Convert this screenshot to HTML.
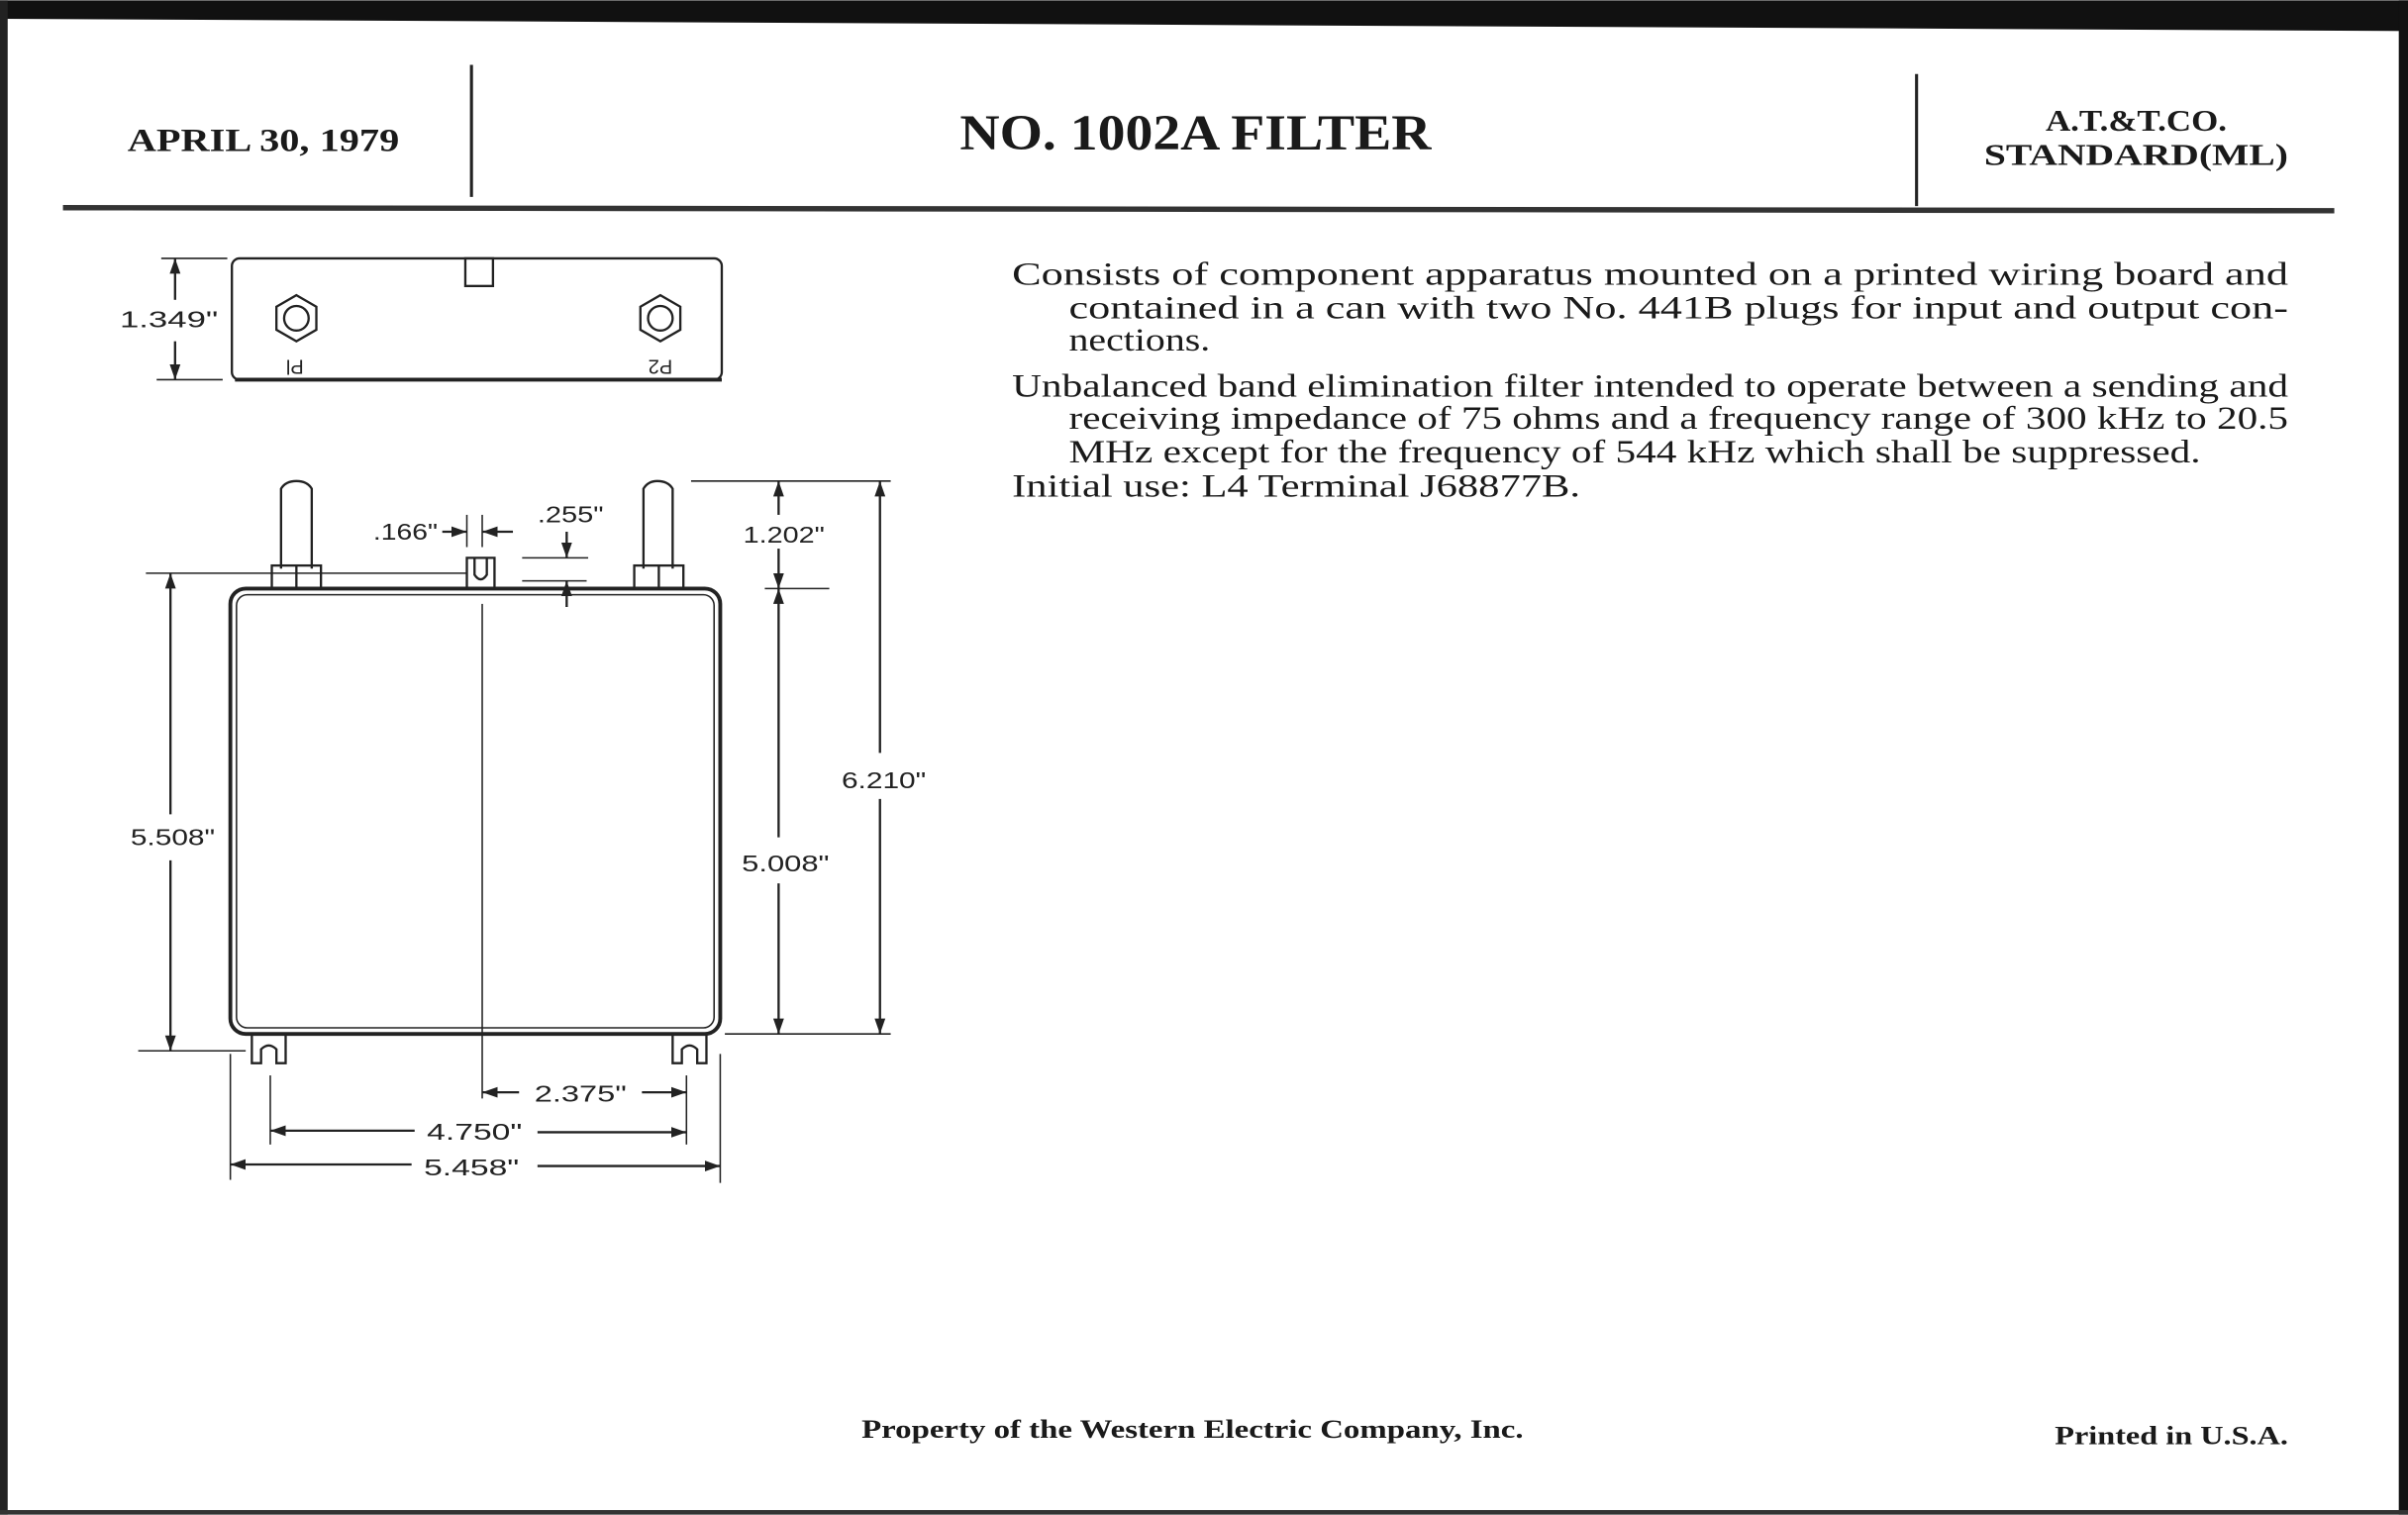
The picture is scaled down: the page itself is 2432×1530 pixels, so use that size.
<!DOCTYPE html>
<html><head><meta charset="utf-8"><style>
html,body{margin:0;padding:0;background:#fff;}
svg{display:block;}
.s{font-family:"Liberation Serif",serif;fill:#1a1a1a;}
.d{font-family:"Liberation Sans",sans-serif;fill:#222;font-size:15px;}
</style></head><body>
<svg width="2432" height="1530" viewBox="0 0 1568 986" xmlns="http://www.w3.org/2000/svg">
<defs>
<marker id="a" viewBox="0 0 10 10" refX="10" refY="5" markerWidth="10" markerHeight="10" markerUnits="userSpaceOnUse" orient="auto"><path d="M0,1.5 L10,5 L0,8.5z" fill="#222"/></marker>
</defs>
<rect width="1568" height="986" fill="#fff"/>
<polygon points="0,0 1568,0 1568,20 0,12" fill="#111"/>
<rect x="0" y="0" width="5" height="986" fill="#222"/>
<rect x="1562" y="0" width="6" height="986" fill="#111"/>
<rect x="0" y="983" width="1568" height="3" fill="#333"/>

<text class="s" x="83" y="98" font-size="21" font-weight="bold" textLength="177" lengthAdjust="spacingAndGlyphs">APRIL 30, 1979</text>
<line x1="307" y1="42" x2="307" y2="128" stroke="#222" stroke-width="2"/>
<text class="s" x="625" y="97" font-size="33" font-weight="bold" textLength="307" lengthAdjust="spacingAndGlyphs">NO. 1002A FILTER</text>
<line x1="1248" y1="48" x2="1248" y2="134" stroke="#222" stroke-width="2"/>
<text class="s" x="1332" y="85" font-size="20" font-weight="bold" textLength="118" lengthAdjust="spacingAndGlyphs">A.T.&amp;T.CO.</text>
<text class="s" x="1292" y="107" font-size="20" font-weight="bold" textLength="198" lengthAdjust="spacingAndGlyphs">STANDARD(ML)</text>
<line x1="41" y1="135" x2="1520" y2="137" stroke="#333" stroke-width="3.5"/>

<g class="s" font-size="21">
<text x="659" y="185" textLength="831" lengthAdjust="spacingAndGlyphs">Consists of component apparatus mounted on a printed wiring board and</text>
<text x="696" y="207" textLength="794" lengthAdjust="spacingAndGlyphs">contained in a can with two No. 441B plugs for input and output con-</text>
<text x="696" y="228" textLength="92" lengthAdjust="spacingAndGlyphs">nections.</text>
<text x="659" y="258" textLength="831" lengthAdjust="spacingAndGlyphs">Unbalanced band elimination filter intended to operate between a sending and</text>
<text x="696" y="279" textLength="794" lengthAdjust="spacingAndGlyphs">receiving impedance of 75 ohms and a frequency range of 300 kHz to 20.5</text>
<text x="696" y="301" textLength="737" lengthAdjust="spacingAndGlyphs">MHz except for the frequency of 544 kHz which shall be suppressed.</text>
<text x="659" y="323" textLength="370" lengthAdjust="spacingAndGlyphs">Initial use: L4 Terminal J68877B.</text>
</g>

<text class="s" x="561" y="936" font-size="17" font-weight="bold" textLength="431" lengthAdjust="spacingAndGlyphs">Property of the Western Electric Company, Inc.</text>
<text class="s" x="1338" y="940" font-size="17" font-weight="bold" textLength="152" lengthAdjust="spacingAndGlyphs">Printed in U.S.A.</text>

<g stroke="#222" fill="none" stroke-width="1.5">
<rect x="151" y="168" width="319" height="79" rx="5"/>
<line x1="153" y1="247" x2="470" y2="247" stroke-width="2.5"/>
<rect x="303" y="168" width="18" height="18"/>
<polygon points="193,192 206,199.5 206,214.5 193,222 180,214.5 180,199.5"/>
<circle cx="193" cy="207" r="8"/>
<polygon points="430,192 443,199.5 443,214.5 430,222 417,214.5 417,199.5"/>
<circle cx="430" cy="207" r="8"/>
<line x1="114" y1="195" x2="114" y2="168" marker-end="url(#a)"/>
<line x1="114" y1="222" x2="114" y2="247" marker-end="url(#a)"/>
<line x1="105" y1="168" x2="148" y2="168" stroke-width="1"/>
<line x1="102" y1="247" x2="145" y2="247" stroke-width="1"/>

<rect x="150" y="383" width="319" height="290" rx="10" stroke-width="2.5"/>
<rect x="154" y="387" width="311" height="282" rx="7" stroke-width="1"/>
<path d="M183,370 V318 Q186,313 193,313 Q200,313 203,318 V370"/>
<rect x="177" y="368" width="32" height="15"/>
<line x1="193" y1="368" x2="193" y2="383"/>
<path d="M419,370 V318 Q422,313 428,313 Q435,313 438,318 V370"/>
<rect x="413" y="368" width="32" height="15"/>
<line x1="429" y1="368" x2="429" y2="383"/>
<path d="M304,383 V363 H322 V383 Z"/>
<path d="M309,363 V374 Q313,380 317,374 V363"/>
<line x1="314" y1="393" x2="314" y2="715" stroke-width="1"/>
<path d="M164,673 V692 H170 V683 Q175,678 180,683 V692 H186 V673"/>
<path d="M438,673 V692 H444 V683 Q449,678 454,683 V692 H460 V673"/>

<line x1="95" y1="373" x2="304" y2="373" stroke-width="1"/>
<line x1="90" y1="684" x2="160" y2="684" stroke-width="1"/>
<line x1="111" y1="530" x2="111" y2="373" marker-end="url(#a)"/>
<line x1="111" y1="560" x2="111" y2="684" marker-end="url(#a)"/>
<line x1="450" y1="313" x2="580" y2="313" stroke-width="1"/>
<line x1="498" y1="383" x2="540" y2="383" stroke-width="1"/>
<line x1="472" y1="673" x2="580" y2="673" stroke-width="1"/>
<line x1="507" y1="335" x2="507" y2="313" marker-end="url(#a)"/>
<line x1="507" y1="357" x2="507" y2="383" marker-end="url(#a)"/>
<line x1="507" y1="545" x2="507" y2="383" marker-end="url(#a)"/>
<line x1="507" y1="575" x2="507" y2="673" marker-end="url(#a)"/>
<line x1="573" y1="490" x2="573" y2="313" marker-end="url(#a)"/>
<line x1="573" y1="520" x2="573" y2="673" marker-end="url(#a)"/>
<line x1="304" y1="335" x2="304" y2="356" stroke-width="1"/>
<line x1="314" y1="335" x2="314" y2="356" stroke-width="1"/>
<line x1="288" y1="346" x2="304" y2="346" marker-end="url(#a)"/>
<line x1="334" y1="346" x2="314" y2="346" marker-end="url(#a)"/>
<line x1="340" y1="363" x2="383" y2="363" stroke-width="1"/>
<line x1="340" y1="378" x2="382" y2="378" stroke-width="1"/>
<line x1="369" y1="346" x2="369" y2="363" marker-end="url(#a)"/>
<line x1="369" y1="395" x2="369" y2="378" marker-end="url(#a)"/>
<line x1="176" y1="700" x2="176" y2="745" stroke-width="1"/>
<line x1="447" y1="700" x2="447" y2="745" stroke-width="1"/>
<line x1="150" y1="686" x2="150" y2="768" stroke-width="1"/>
<line x1="469" y1="686" x2="469" y2="770" stroke-width="1"/>
<line x1="338" y1="711" x2="314" y2="711" marker-end="url(#a)"/>
<line x1="418" y1="711" x2="447" y2="711" marker-end="url(#a)"/>
<line x1="270" y1="736" x2="176" y2="736" marker-end="url(#a)"/>
<line x1="350" y1="737" x2="447" y2="737" marker-end="url(#a)"/>
<line x1="268" y1="758" x2="150" y2="758" marker-end="url(#a)"/>
<line x1="350" y1="759" x2="469" y2="759" marker-end="url(#a)"/>
</g>

<g class="d">
<text x="78" y="213" textLength="64" lengthAdjust="spacingAndGlyphs">1.349"</text>
<text x="192" y="234" font-size="13" text-anchor="middle" transform="rotate(180 192 234)">Pl</text>
<text x="430" y="234" font-size="13" text-anchor="middle" transform="rotate(180 430 234)">P2</text>
<text x="85" y="550" textLength="55" lengthAdjust="spacingAndGlyphs">5.508"</text>
<text x="484" y="353" textLength="53" lengthAdjust="spacingAndGlyphs">1.202"</text>
<text x="483" y="567" textLength="57" lengthAdjust="spacingAndGlyphs">5.008"</text>
<text x="548" y="513" textLength="55" lengthAdjust="spacingAndGlyphs">6.210"</text>
<text x="243" y="351" textLength="42" lengthAdjust="spacingAndGlyphs">.166"</text>
<text x="350" y="340" textLength="43" lengthAdjust="spacingAndGlyphs">.255"</text>
<text x="348" y="717" textLength="60" lengthAdjust="spacingAndGlyphs">2.375"</text>
<text x="278" y="742" textLength="62" lengthAdjust="spacingAndGlyphs">4.750"</text>
<text x="276" y="765" textLength="62" lengthAdjust="spacingAndGlyphs">5.458"</text>
</g>
</svg>
</body></html>
